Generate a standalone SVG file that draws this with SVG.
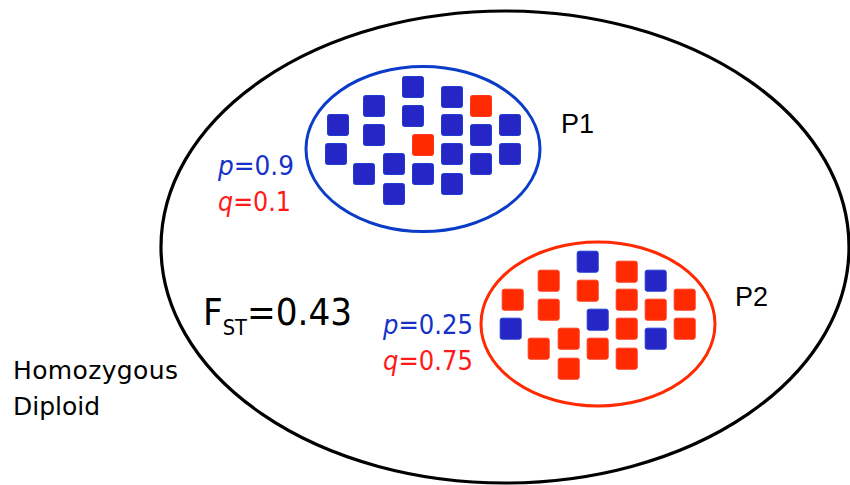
<svg xmlns="http://www.w3.org/2000/svg" width="850" height="485" viewBox="0 0 850 485">
<style>
.b{fill:#2626c6;stroke:#1e3ccf;stroke-width:1}
.r{fill:#ff2a00;stroke:#ff3a1a;stroke-width:1}
.lbl{font-family:"DejaVu Sans","Liberation Sans",sans-serif;fill:#000}
.pl{font-family:"Liberation Sans",sans-serif;fill:#000;font-size:27px}
.blue{fill:#1432c8}
.red{fill:#ff1a1a}
</style>
<rect width="850" height="485" fill="#fff"/>
<g id="outer">
<ellipse cx="505" cy="247" rx="344" ry="236" fill="none" stroke="#000" stroke-width="3.2"/>
<text class="lbl" x="13" y="379" font-size="25" textLength="165" lengthAdjust="spacing">Homozygous</text>
<text class="lbl" x="13" y="415" font-size="25" textLength="87" lengthAdjust="spacing">Diploid</text>
<text class="lbl" x="203" y="325" font-size="37" font-family="Liberation Sans, sans-serif" textLength="149" lengthAdjust="spacingAndGlyphs">F<tspan font-size="21" dy="10">ST</tspan><tspan dy="-10">=0.43</tspan></text>
</g>
<g id="P1">
<ellipse cx="423" cy="149" rx="117" ry="82.5" fill="none" stroke="#0a3cc8" stroke-width="3"/>
<g>
<rect class="b" x="402.5" y="76.5" width="21" height="21" rx="2"/>
<rect class="b" x="441.5" y="86.5" width="21" height="21" rx="2"/>
<rect class="r" x="470.5" y="95.5" width="21" height="21" rx="2"/>
<rect class="b" x="363.5" y="95.5" width="21" height="21" rx="2"/>
<rect class="b" x="402.5" y="105.5" width="21" height="21" rx="2"/>
<rect class="b" x="327.5" y="114.5" width="21" height="21" rx="2"/>
<rect class="b" x="363.5" y="124.5" width="21" height="21" rx="2"/>
<rect class="b" x="441.5" y="114.5" width="21" height="21" rx="2"/>
<rect class="b" x="470.5" y="124.5" width="21" height="21" rx="2"/>
<rect class="b" x="499.5" y="114.5" width="21" height="21" rx="2"/>
<rect class="r" x="412.5" y="134.5" width="21" height="21" rx="2"/>
<rect class="b" x="325.5" y="143.5" width="21" height="21" rx="2"/>
<rect class="b" x="441.5" y="143.5" width="21" height="21" rx="2"/>
<rect class="b" x="499.5" y="143.5" width="21" height="21" rx="2"/>
<rect class="b" x="383.5" y="153.5" width="21" height="21" rx="2"/>
<rect class="b" x="353.5" y="163.5" width="21" height="21" rx="2"/>
<rect class="b" x="412.5" y="163.5" width="21" height="21" rx="2"/>
<rect class="b" x="470.5" y="153.5" width="21" height="21" rx="2"/>
<rect class="b" x="441.5" y="173.5" width="21" height="21" rx="2"/>
<rect class="b" x="383.5" y="183.5" width="21" height="21" rx="2"/>
</g>
<text class="pl" x="561" y="133">P1</text>
<text class="lbl blue" x="218" y="175" font-size="26" textLength="76" lengthAdjust="spacingAndGlyphs"><tspan font-style="italic">p</tspan>=0.9</text>
<text class="lbl red" x="218" y="211" font-size="26" textLength="73" lengthAdjust="spacingAndGlyphs"><tspan font-style="italic">q</tspan>=0.1</text>
</g>
<g id="P2">
<ellipse cx="598" cy="324" rx="117" ry="82" fill="none" stroke="#ff2a00" stroke-width="3"/>
<g transform="translate(174.7,174.7)">
<rect class="b" x="402.5" y="76.5" width="21" height="21" rx="2"/>
<rect class="r" x="441.5" y="86.5" width="21" height="21" rx="2"/>
<rect class="b" x="470.5" y="95.5" width="21" height="21" rx="2"/>
<rect class="r" x="363.5" y="95.5" width="21" height="21" rx="2"/>
<rect class="r" x="402.5" y="105.5" width="21" height="21" rx="2"/>
<rect class="r" x="327.5" y="114.5" width="21" height="21" rx="2"/>
<rect class="r" x="363.5" y="124.5" width="21" height="21" rx="2"/>
<rect class="r" x="441.5" y="114.5" width="21" height="21" rx="2"/>
<rect class="r" x="470.5" y="124.5" width="21" height="21" rx="2"/>
<rect class="r" x="499.5" y="114.5" width="21" height="21" rx="2"/>
<rect class="b" x="412.5" y="134.5" width="21" height="21" rx="2"/>
<rect class="b" x="325.5" y="143.5" width="21" height="21" rx="2"/>
<rect class="r" x="441.5" y="143.5" width="21" height="21" rx="2"/>
<rect class="r" x="499.5" y="143.5" width="21" height="21" rx="2"/>
<rect class="r" x="383.5" y="153.5" width="21" height="21" rx="2"/>
<rect class="r" x="353.5" y="163.5" width="21" height="21" rx="2"/>
<rect class="r" x="412.5" y="163.5" width="21" height="21" rx="2"/>
<rect class="b" x="470.5" y="153.5" width="21" height="21" rx="2"/>
<rect class="r" x="441.5" y="173.5" width="21" height="21" rx="2"/>
<rect class="r" x="383.5" y="183.5" width="21" height="21" rx="2"/>
</g>
<text class="pl" x="735" y="306">P2</text>
<text class="lbl blue" x="383" y="334" font-size="26" textLength="90" lengthAdjust="spacingAndGlyphs"><tspan font-style="italic">p</tspan>=0.25</text>
<text class="lbl red" x="383" y="370" font-size="26" textLength="90" lengthAdjust="spacingAndGlyphs"><tspan font-style="italic">q</tspan>=0.75</text>
</g>
</svg>
